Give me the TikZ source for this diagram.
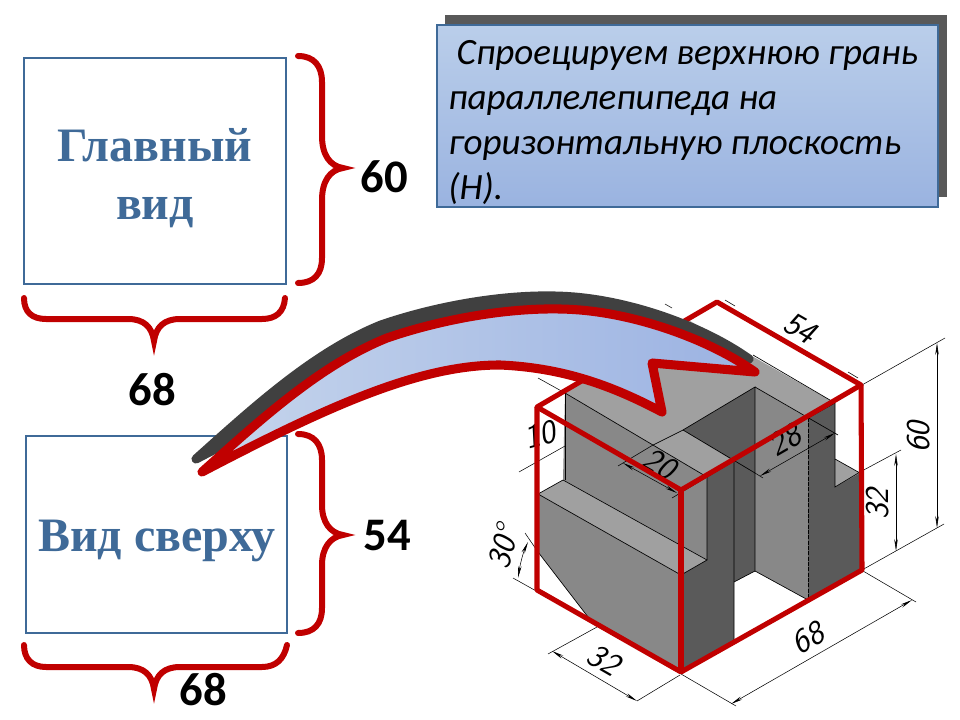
\documentclass[tikz,border=0pt]{standalone}
\usepackage{fontspec}
\setmainfont{Carlito}
\newfontfamily\viewfont{Liberation Serif}
\usepackage{tikz}
\usetikzlibrary{arrows.meta}

\definecolor{boxblue}{RGB}{63,106,152}
\definecolor{bracered}{RGB}{192,0,0}
\definecolor{shadowgray}{RGB}{89,89,89}
\definecolor{bendgray}{RGB}{64,64,64}
\definecolor{topface}{RGB}{160,160,160}
\definecolor{midface}{RGB}{136,136,136}
\definecolor{darkface}{RGB}{90,90,90}

\tikzset{
  viewbox/.style={draw=boxblue,line width=2pt,fill=white},
  viewtext/.style={text=boxblue,font=\viewfont\bfseries\fontsize{36}{43.5}\selectfont,align=center,inner sep=0pt},
  sizetext/.style={font=\bfseries\fontsize{35}{35}\selectfont,inner sep=0pt},
  bracket/.style={draw=bracered,line width=4.5pt,line cap=round},
  edge/.style={draw=black,line width=0.5pt},
  dimline/.style={draw=black,line width=0.4pt},
  dimarrow/.style={dimline,{Stealth[length=9pt,width=2.6pt]}-{Stealth[length=9pt,width=2.6pt]}},
  dimtext/.style={font=\sffamily\itshape\fontsize{25}{25}\selectfont,inner sep=0pt},
  redframe/.style={draw=bracered,line width=3.8pt,line join=round}
}

\def\bendpath{(202,472) .. controls (260,420) and (320,365) .. (387,338) .. controls (445,318) and (520,305) .. (580,310) .. controls (640,315) and (710,340) .. (755,372) -- (652,363) -- (662,412) .. controls (620,390) and (570,368) .. (500,365) .. controls (420,365) and (330,405) .. cycle}

\begin{document}
\begin{tikzpicture}[x=0.75pt,y=0.75pt,yscale=-1,xscale=1]
\useasboundingbox (0,0) rectangle (960,720);

% View boxes
\draw [viewbox] (24,58) rectangle (286,284);
\draw [viewbox] (26,436) rectangle (287,633);
\node (glavny) [viewtext] at (155,178) {Главный\\вид};
\node (sverhu) [viewtext] at (157,541) {Вид сверху};

% Braces
\draw [bracket] (298,56) .. controls (314,56) and (322,66) .. (322,82) -- (322,136) .. controls (322,155) and (330,166) .. (343,168) .. controls (330,170) and (322,181) .. (322,200) -- (322,258) .. controls (322,274) and (314,283) .. (298,283);
\draw [bracket] (298,434) .. controls (314,434) and (322,444) .. (322,460) -- (322,505) .. controls (322,522) and (330,533) .. (343,535) .. controls (330,537) and (322,548) .. (322,565) -- (322,608) .. controls (322,624) and (314,633) .. (298,633);
\draw [bracket] (24,298) .. controls (24,312) and (32,319) .. (46,319) -- (128,319) .. controls (144,319) and (152,327) .. (154,341) .. controls (156,327) and (164,319) .. (180,319) -- (262,319) .. controls (276,319) and (284,312) .. (285,298);
\draw [bracket] (24,645) .. controls (24,659) and (32,667) .. (46,667) -- (128,667) .. controls (144,667) and (152,675) .. (154,689) .. controls (156,675) and (164,667) .. (180,667) -- (262,667) .. controls (276,667) and (284,659) .. (287,645);

% Size labels
\node (sizea) [sizetext] at (384,177) {60};
\node (sizeb) [sizetext] at (152,390) {68};
\node (sizec) [sizetext] at (387,536) {54};
\node (sized) [sizetext] at (203,690) {68};

% Caption
\fill [shadowgray] (445,15) rectangle (947,197);
\draw [draw=boxblue,line width=2.2pt,top color={rgb,255:red,186;green,206;blue,234},bottom color={rgb,255:red,154;green,179;blue,224}] (437,25) rectangle (938,207);
\node (caption) [anchor=north west,inner sep=0pt,align=left,font=\itshape\fontsize{27.8}{33.75}\selectfont] at (448,40) {\ Спроецируем верхнюю грань\\параллелепипеда на\\горизонтальную плоскость\\(Н).};

% Part faces
\fill [topface] (565,393) -- (690,321) -- (835,403) -- (808,418) -- (755,387) -- (683,430) -- (734,461) -- (707,477) -- cycle;
\fill [midface] (565,393) -- (707,477) -- (707,560) -- (563,480) -- cycle;
\fill [topface] (538,494) -- (563,480) -- (707,560) -- (681,575) -- cycle;
\fill [midface] (538,494) -- (681,575) -- (681,672) -- (588,617) -- (538,552) -- cycle;
\fill [darkface] (681,575) -- (707,560) -- (707,477) -- (734,461) -- (734,642) -- (681,672) -- cycle;
\fill [darkface] (683,430) -- (755,387) -- (755,571) -- (734,582) -- (734,461) -- cycle;
\fill [midface] (755,387) -- (808,418) -- (808,600) -- (755,571) -- cycle;
\fill [darkface] (808,418) -- (835,403) -- (835,487) -- (860,472) -- (861,570) -- (808,600) -- cycle;
\fill [topface] (835,459) -- (860,473) -- (835,487) -- cycle;

%Part edges
\draw [edge] (565,393) -- (565,480);
\draw [edge] (565,393) -- (707,477) -- (707,560);
\draw [edge] (538,494) -- (563,480) -- (707,560) -- (681,575) -- (538,494);
\draw [edge] (538,552) -- (588,617);
\draw [edge] (653,445) -- (683,430) -- (755,473);
\draw [edge] (707,477) -- (734,461) -- (734,642);
\draw [edge] (683,430) -- (755,387) -- (755,571) -- (734,582);
\draw [edge] (755,571) -- (808,600);
\draw [edge] (755,387) -- (838,435);
\draw [edge] (753,355) -- (835,403) -- (835,487) -- (860,472);
\draw [edge] (835,403) -- (808,418);
\draw [edge,dash pattern=on 3pt off 1pt] (808,418) -- (808,600);
\draw [edge] (835,459) -- (860,473);

% Dimensions
\draw [dimline] (862,385) -- (945,338);
\draw [dimline] (862,570) -- (944,524);
\draw [dimarrow] (937,343) -- (937,528);
\draw [dimline] (860,472) -- (901,450);
\draw [dimarrow] (896,454) -- (896,551);
\draw [dimline] (681,674) -- (736,706);
\draw [dimline] (863,571) -- (916,602);
\draw [dimarrow] (731,704) -- (912,600);
\draw [dimline] (597,627) -- (548,654);
\draw [dimline] (680,675) -- (637,701);
\draw [dimarrow] (552,651) -- (637,701);
\draw [dimline] (513,578) -- (538,592);
\draw [dimline] (525,533) -- (538,552);
\draw [dimarrow] (518,578) .. controls (520,565) and (523,553) .. (528,542);
\draw [dimline] (519,472) -- (565,446);
\draw [dimline] (538,378) -- (565,393);
\draw [dimarrow] (623,463) -- (677,493);
\draw [dimline] (618,466) -- (653,445);
\draw [dimline] (672,498) -- (707,477);
\draw [dimarrow] (760,476) -- (835,433);
\draw [dimline] (755,473) -- (763,478);
\draw [dimline] (725,300) -- (735,306);
\draw [dimline] (848,372) -- (858,378);
\draw [dimline] (665,304) -- (672,308);
\node (dimsixty) [dimtext,rotate=90] at (919,437) {60};
\node (dimthirtytwo) [dimtext,rotate=90] at (878,504) {32};
\node (dimsixtyeight) [dimtext,rotate=30] at (808,638) {68};
\node (dimbase) [dimtext,rotate=-30] at (604,660) {32};
\node (dimangle) [dimtext,rotate=75] at (503,547) {30°};
\node (dimten) [dimtext,rotate=15] at (540,435) {10};
\node (dimtwenty) [dimtext,rotate=-30] at (660,464) {20};
\node (dimtwentyeight) [dimtext,rotate=30] at (785,440) {28};
\node (dimfiftyfour) [dimtext,rotate=-30] at (800,328) {54};

% Red frame
\draw [redframe] (537,407) -- (681,490) -- (861,385) -- (717,302) -- cycle;
\draw [redframe] (537,407) -- (537,590) -- (681,672) -- (862,570) -- (861,385);
\draw [redframe] (681,490) -- (681,672);

% Bent arrow
\draw [draw=bendgray,fill=bendgray,line width=6.8pt,line join=round,shift={(-6,-13)}] \bendpath;
\draw [draw=bracered,line width=6.8pt,line join=round,left color={rgb,255:red,198;green,213;blue,236},right color={rgb,255:red,155;green,178;blue,226}] \bendpath;

\end{tikzpicture}
\end{document}
